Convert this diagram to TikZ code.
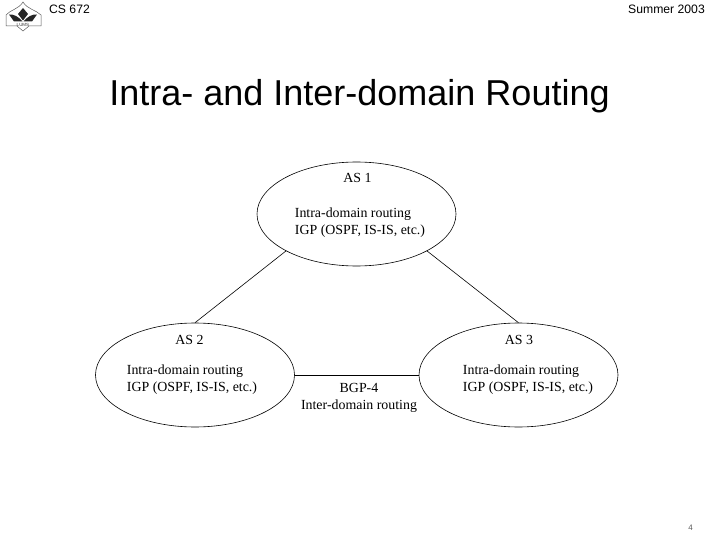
\documentclass[tikz,border=0pt]{standalone}
\usepackage{fontspec}
\setmainfont{Liberation Serif}
\newfontfamily\headfont{Liberation Sans}
\usetikzlibrary{shapes.geometric}

\begin{document}
\begin{tikzpicture}[x=1pt,y=-1pt,node distance=323.5pt,
        as node/.style={ellipse,draw,line width=.6pt,minimum width=199pt,minimum height=104pt,inner sep=0pt},
        as name/.style={font=\fontsize{13.9}{17}\selectfont,inner sep=0pt},
        as text/.style={font=\fontsize{13.9}{17}\selectfont,align=left,inner sep=0pt},
        head text/.style={font=\headfont\fontsize{12.2}{14}\selectfont,inner sep=0pt}]
        \useasboundingbox (0,0) rectangle (720,540);

        \node[as node] (as1) at (356.5,214) {};
        \node[as node] (as2) at (195,375) {};
        \node[as node] (as3) [right of=as2] {};

        \node[as name] (as1 name) at (357.5,178) {AS 1};
        \node[as name] (as2 name) at (189.5,340) {AS 2};
        \node[as name] (as3 name) at (519,340) {AS 3};

        \node[as text] (as1 text) at (360,223) {Intra-domain routing\\IGP (OSPF, IS-IS, etc.)};
        \node[as text] (as2 text) at (192,380) {Intra-domain routing\\IGP (OSPF, IS-IS, etc.)};
        \node[as text] (as3 text) at (528,380) {Intra-domain routing\\IGP (OSPF, IS-IS, etc.)};
        \node[as text,align=center] (bgp) at (359,398) {BGP-4\\Inter-domain routing};

        \path[draw,line width=.6pt]
          (as1.south west) edge (as2.north)
          (as1.south east) edge (as3.north)
          (as2.east) edge (as3.west)
          ;

        % header
        \node[head text] (course) at (69.5,9.5) {CS 672};
        \node[head text] (term) at (666.5,9.5) {Summer 2003};
        \node[font=\headfont\fontsize{36}{40}\selectfont,inner sep=0pt] (title) at (359.5,96) {Intra- and Inter-domain Routing};
        \node[font=\headfont\fontsize{8}{10}\selectfont,text=black!65,inner sep=0pt] (page) at (690.5,528) {4};

        % logo
        \draw[black!65,line width=.5pt] (6,26) -- (6,15) .. controls (10,10) and (19,9) .. (23,2) .. controls (27,9) and (36,10) .. (41,15) -- (41,26) -- (29,26) -- (23,31) -- (17,26) -- cycle;
        \fill[black!85] (23,8) -- (28,14) -- (23,20.5) -- (18,14) -- cycle;
        \fill[black!85] (9,14.5) .. controls (14,14) and (19,17) .. (22.5,21.5) -- (14,21.5) -- cycle;
        \fill[black!85] (37,14.5) .. controls (32,14) and (27,17) .. (23.5,21.5) -- (32,21.5) -- cycle;
        \node[font=\headfont\fontsize{4.5}{5}\selectfont,inner sep=0pt,text=black!80] (logo text) at (23,24.5) {LUMS};
    \end{tikzpicture}
\end{document}
